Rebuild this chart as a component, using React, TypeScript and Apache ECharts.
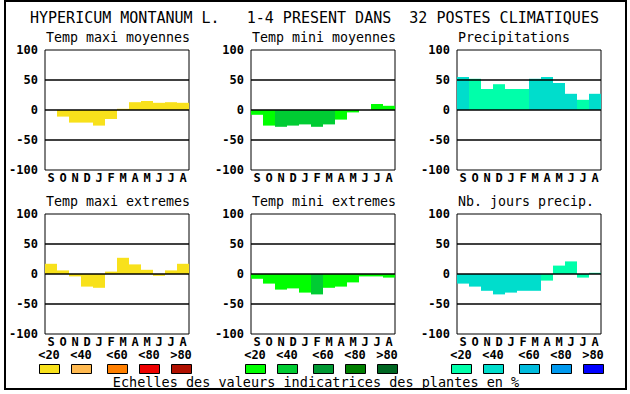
import React, { useEffect, useRef } from 'react';
import * as echarts from 'echarts';

const months = ['S', 'O', 'N', 'D', 'J', 'F', 'M', 'A', 'M', 'J', 'J', 'A'];
const yTicks = [-100, -50, 0, 50, 100];

const tmaxMoy = [0, -11, -21, -21, -26, -15, 2, 13, 15, 12, 13, 12];
const tmaxMoyCls = [0, 0, 0, 0, 0, 0, 0, 0, 0, 0, 0, 0];
const tminMoy = [-8, -26, -28, -26, -24, -28, -24, -16, -4, 0, 10, 7];
const tminMoyCls = [0, 0, 1, 1, 1, 1, 1, 0, 0, 0, 0, 0];
const precip = [55, 52, 35, 43, 35, 35, 52, 55, 45, 27, 17, 27];
const precipCls = [1, 0, 0, 0, 0, 0, 1, 1, 1, 1, 0, 1];
const tmaxExt = [17, 6, -4, -21, -23, 4, 27, 16, 7, -3, 6, 17];
const tmaxExtCls = [0, 0, 0, 0, 0, 0, 0, 0, 0, 0, 0, 0];
const tminExt = [-8, -16, -26, -24, -31, -34, -23, -21, -14, -4, -4, -6];
const tminExtCls = [0, 0, 0, 0, 0, 1, 0, 0, 0, 0, 0, 0];
const nbJours = [-16, -21, -28, -34, -31, -28, -28, -11, 14, 21, -6, 2];
const nbJoursCls = [1, 1, 1, 1, 1, 1, 1, 0, 0, 0, 0, 0];

const yellows = ['#f8e11b', '#ffb94f', '#ff7f00', '#ee0000', '#b01000'];
const greens = ['#00ff00', '#00cc33', '#009933', '#007f00', '#006622'];
const blues = ['#00ffaa', '#00ddcc', '#00bbdd', '#0099ee', '#0000ff'];
const legendLabels = ['<20', '<40', '<60', '<80', '>80'];

const mainTitle = 'HYPERICUM MONTANUM L.   1-4 PRESENT DANS  32 POSTES CLIMATIQUES';
const footer = 'Echelles des valeurs indicatrices des plantes en %';

const panels = [
  { title: 'Temp maxi moyennes', values: tmaxMoy, cls: tmaxMoyCls, pal: yellows },
  { title: 'Temp mini moyennes', values: tminMoy, cls: tminMoyCls, pal: greens },
  { title: 'Precipitations', values: precip, cls: precipCls, pal: blues },
  { title: 'Temp maxi extremes', values: tmaxExt, cls: tmaxExtCls, pal: yellows },
  { title: 'Temp mini extremes', values: tminExt, cls: tminExtCls, pal: greens },
  { title: 'Nb. jours precip.', values: nbJours, cls: nbJoursCls, pal: blues },
];

const MONO = 'DejaVu Sans Mono';

export default function App() {
  const ref = useRef<HTMLDivElement>(null);
  useEffect(() => {
    document.body.style.margin = '0';
    if (!ref.current) return;
    const chart = echarts.init(ref.current, null, { renderer: 'svg' });
    const lefts = [45, 251, 457];
    const tops = [50, 214];
    const W = 144;
    const H = 120;
    const grids: any[] = [];
    const xAxes: any[] = [];
    const yAxes: any[] = [];
    const series: any[] = [];
    const graphics: any[] = [];

    panels.forEach((p, i) => {
      const col = i % 3;
      const row = Math.floor(i / 3);
      grids.push({
        left: lefts[col], top: tops[row], width: W, height: H,
        show: true, borderColor: '#000', borderWidth: 1, backgroundColor: 'transparent',
      });
      xAxes.push({
        type: 'category', gridIndex: i, data: months,
        axisLine: { show: false }, axisTick: { show: false }, splitLine: { show: false },
        axisLabel: { interval: 0, margin: 2, color: '#000', fontFamily: MONO, fontWeight: 'bold', fontSize: 12 },
      });
      yAxes.push({
        type: 'value', gridIndex: i, min: yTicks[0], max: yTicks[yTicks.length - 1], interval: 50,
        axisLine: { show: false }, axisTick: { show: false }, splitLine: { show: false },
        axisLabel: { margin: 7, color: '#000', fontFamily: MONO, fontWeight: 'bold', fontSize: 12 },
      });
      series.push({
        type: 'bar', xAxisIndex: i, yAxisIndex: i, barWidth: '100%', barGap: '0%',
        data: p.values.map((v, k) => ({ value: v, itemStyle: { color: p.pal[p.cls[k]] } })),
        silent: true,
        markLine: {
          silent: true, symbol: ['none', 'none'], label: { show: false },
          lineStyle: { color: '#000', width: 1.5, type: 'solid' },
          data: [{ yAxis: 50 }, { yAxis: 0 }, { yAxis: -50 }],
        },
      });
      graphics.push({
        type: 'text', left: lefts[col] + 1, top: tops[row] - 19,
        style: { text: p.title, fontFamily: MONO, fontSize: 13.3, fill: '#000' },
      });
    });

    const palettes = [yellows, greens, blues];
    const groupX = [39, 245, 451];
    const inner = [0, 32, 68, 100, 132];
    palettes.forEach((pal, g) => {
      pal.forEach((c, k) => {
        const x = groupX[g] + inner[k];
        graphics.push({
          type: 'rect', shape: { x: x + 0.5, y: 364.5, width: 20, height: 9 },
          style: { fill: c, stroke: '#000', lineWidth: 1 },
        });
        graphics.push({
          type: 'text', x: x + 10, y: 355,
          style: { text: legendLabels[k], align: 'center', verticalAlign: 'middle', fontFamily: MONO, fontWeight: 'bold', fontSize: 12, fill: '#000' },
        });
      });
    });

    graphics.push({
      type: 'rect', shape: { x: 5, y: 1, width: 621, height: 388 },
      style: { fill: 'none', stroke: '#000', lineWidth: 2 },
    });
    graphics.push({
      type: 'text', x: 30, y: 18,
      style: { text: mainTitle, verticalAlign: 'middle', fontFamily: MONO, fontSize: 15, fill: '#000' },
    });
    graphics.push({
      type: 'text', x: 316, y: 382,
      style: { text: footer, align: 'center', verticalAlign: 'middle', fontFamily: MONO, fontSize: 13.5, fill: '#000' },
    });

    chart.setOption({
      animation: false,
      backgroundColor: '#fff',
      grid: grids,
      xAxis: xAxes,
      yAxis: yAxes,
      series,
      graphic: graphics,
    });
    return () => chart.dispose();
  }, []);
  return <div ref={ref} style={{ position: 'absolute', left: 0, top: 0, width: 630, height: 394 }} />;
}
